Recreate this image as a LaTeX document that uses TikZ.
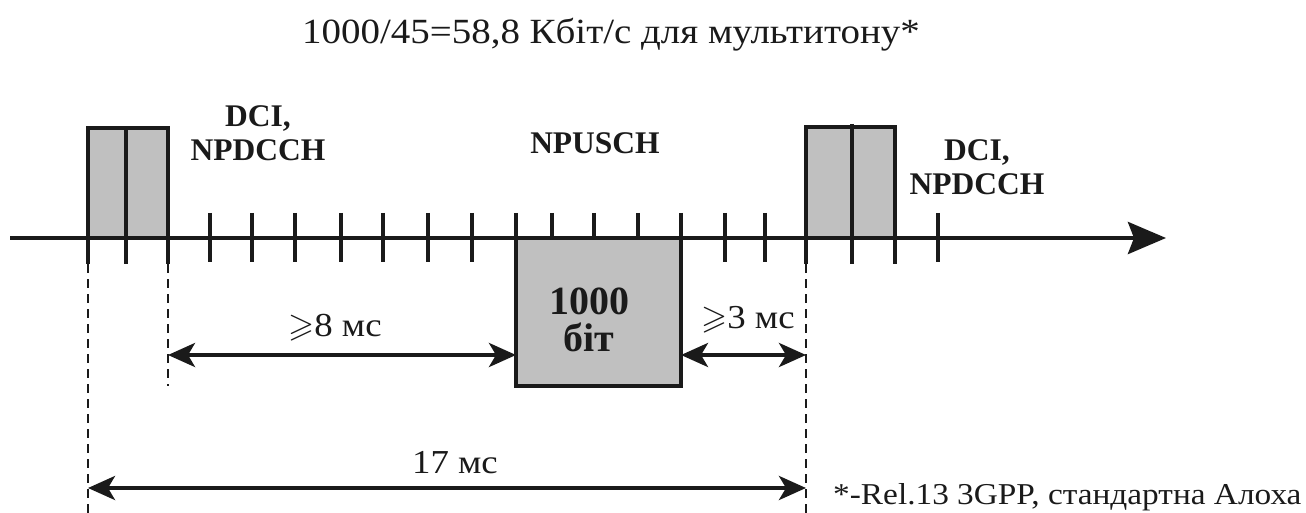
\documentclass[tikz,border=0pt]{standalone}
\usepackage{fontspec}
\usepackage{amssymb}
\setmainfont{Liberation Serif}
\newfontfamily\widefont[FakeStretch=1.1]{Liberation Serif}
\usetikzlibrary{arrows.meta}
\definecolor{slotgray}{HTML}{C0C0C0}
\definecolor{ink}{HTML}{1A1A1A}
\begin{document}
\begin{tikzpicture}[x=1pt,y=-1pt,
  axisline/.style={draw=ink,line width=4.5pt,-{Stealth[length=38pt,width=32pt,inset=6pt]}},
  ticko/.style={draw=ink,line width=3.5pt},
  slot/.style={draw=ink,line width=3.5pt,fill=slotgray,inner sep=0pt,outer sep=0pt},
  dimarrow/.style={draw=ink,line width=4pt,{Stealth[length=27pt,width=24pt,inset=7pt]}-{Stealth[length=27pt,width=24pt,inset=7pt]}},
  guide/.style={draw=ink,line width=1.3pt,dash pattern=on 9pt off 6pt},
  lbl/.style={font=\fontsize{31.5}{34}\selectfont\bfseries,text=ink,align=center,inner sep=0pt},
  txt/.style={font=\widefont\fontsize{33.5}{36}\selectfont,text=ink,inner sep=0pt}]
\useasboundingbox (0,0) rectangle (1306,513);
% title
\node[txt,font=\widefont\fontsize{35.4}{38}\selectfont] (title) at (611,35) {1000/45=58,8 Кбіт/с для мультитону*};
% ticks crossing the axis
\foreach \x in {210,252,295,341,383,428,472,725,765,938}
  \draw[ticko] (\x,213) -- (\x,262);
\foreach \x in {552,594,638}
  \draw[ticko] (\x,213) -- (\x,238);
\foreach \x in {516,681}
  \draw[ticko] (\x,213) -- (\x,238);
\foreach \x in {88,126,168,806,852,895}
  \draw[ticko] (\x,238) -- (\x,264);
% boxes
\node[slot,minimum width=80pt,minimum height=110pt,anchor=south west] (b1) at (88,238) {};
\draw[ticko] (126,128) -- (126,238);
\node[slot,minimum width=89pt,minimum height=111pt,anchor=south west] (b2) at (806,238) {};
\draw[ticko] (852,124) -- (852,238);
\node[slot,minimum width=165pt,minimum height=148pt,anchor=north west] (npusch) at (516,238) {};
% axis
\coordinate (axs) at (10,238);
\coordinate (axe) at (1166,238);
\draw[axisline] (axs) -- (axe);
% labels
\node[lbl] (dci1) at (258,133) {DCI,\\NPDCCH};
\node[lbl] (npl) at (595,143) {NPUSCH};
\node[lbl] (dci2) at (977,167) {DCI,\\NPDCCH};
\node[lbl,font=\fontsize{40}{37}\selectfont\bfseries] (bits) at (589,320) {1000\\біт};
% guides
\coordinate (g1t) at (88,264);
\coordinate (g1b) at (88,513);
\coordinate (g2t) at (168,264);
\coordinate (g2b) at (168,386);
\coordinate (g3t) at (806,264);
\coordinate (g3b) at (806,513);
\draw[guide] (g1t) -- (g1b);
\draw[guide] (g2t) -- (g2b);
\draw[guide] (g3t) -- (g3b);
% dimension arrows
\coordinate (a8s) at (168,355);
\coordinate (a3e) at (806,355);
\coordinate (a17s) at (88,488);
\coordinate (a17e) at (806,488);
\draw[dimarrow] (a8s) -- (a8s -| npusch.west);
\draw[dimarrow] (a3e -| npusch.east) -- (a3e);
\draw[dimarrow] (a17s) -- (a17e);
\node[txt] (l8) at (335,328) {$\geqslant$8 мс};
\node[txt] (l3) at (748,320) {$\geqslant$3 мс};
\node[txt] (l17) at (455,463) {17 мс};
\node[txt,font=\widefont\fontsize{30.3}{32}\selectfont,anchor=west] (note) at (833,497) {*-Rel.13 3GPP, стандартна Алоха};
\end{tikzpicture}
\end{document}
